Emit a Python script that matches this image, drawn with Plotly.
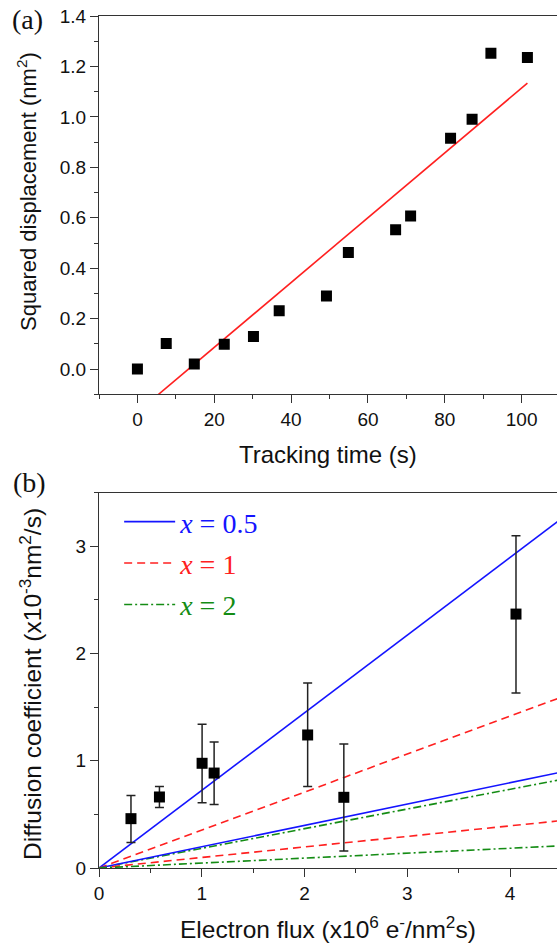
import plotly.graph_objects as go

# ---------------- Panel (a) data ----------------
time_s = [0, 7.5, 14.8, 22.6, 30.2, 36.9, 49.2, 54.9, 67.2, 71.1, 81.5, 87.1, 92.0, 101.5]
sq_disp = [0.0, 0.101, 0.020, 0.098, 0.129, 0.231, 0.290, 0.462, 0.553, 0.607, 0.916, 0.991, 1.253, 1.236]
fit_time = [0, 101.5]
fit_disp = [-0.171, 1.134]

# ---------------- Panel (b) data ----------------
flux = [0.311, 0.588, 1.003, 1.120, 2.030, 2.382, 4.057]
diff_coef = [0.460, 0.662, 0.976, 0.885, 1.240, 0.659, 2.367]
err_up = [0.215, 0.097, 0.363, 0.289, 0.484, 0.497, 0.731]
err_down = [0.223, 0.099, 0.367, 0.294, 0.481, 0.501, 0.736]

model_flux = [0, 4.5]
blue_hi = [0, 3.257]
blue_lo = [0, 0.894]
red_hi = [0, 1.593]
red_lo = [0, 0.442]
green_hi = [0, 0.825]
green_lo = [0, 0.207]

BLUE = "#1414ff"
RED = "#ff2020"
GREEN = "#148c14"
AX = "#333333"
SANS = "Liberation Sans, Arial, sans-serif"
SERIF = "Liberation Serif, Times New Roman, serif"

fig = go.Figure()

# Panel (a)
fig.add_trace(go.Scatter(x=fit_time, y=fit_disp, mode="lines", line=dict(color=RED, width=1.6),
                         xaxis="x", yaxis="y", showlegend=False))
fig.add_trace(go.Scatter(x=time_s, y=sq_disp, mode="markers",
                         marker=dict(symbol="square", size=11, color="black"),
                         xaxis="x", yaxis="y", showlegend=False))

# Panel (b) model lines
lw = 1.6
fig.add_trace(go.Scatter(x=model_flux, y=blue_hi, mode="lines", line=dict(color=BLUE, width=lw),
                         xaxis="x2", yaxis="y2", legendgroup="g1",
                         name='<span style="color:%s"><i>x</i> = 0.5</span>' % BLUE))
fig.add_trace(go.Scatter(x=model_flux, y=red_hi, mode="lines",
                         line=dict(color=RED, width=lw, dash="8px,5px"),
                         xaxis="x2", yaxis="y2", legendgroup="g2",
                         name='<span style="color:%s"><i>x</i> = 1</span>' % RED))
fig.add_trace(go.Scatter(x=model_flux, y=green_hi, mode="lines",
                         line=dict(color=GREEN, width=lw, dash="8px,3px,2px,3px"),
                         xaxis="x2", yaxis="y2", legendgroup="g3",
                         name='<span style="color:%s"><i>x</i> = 2</span>' % GREEN))
fig.add_trace(go.Scatter(x=model_flux, y=blue_lo, mode="lines", line=dict(color=BLUE, width=lw),
                         xaxis="x2", yaxis="y2", showlegend=False))
fig.add_trace(go.Scatter(x=model_flux, y=red_lo, mode="lines",
                         line=dict(color=RED, width=lw, dash="8px,5px"),
                         xaxis="x2", yaxis="y2", showlegend=False))
fig.add_trace(go.Scatter(x=model_flux, y=green_lo, mode="lines",
                         line=dict(color=GREEN, width=lw, dash="8px,3px,2px,3px"),
                         xaxis="x2", yaxis="y2", showlegend=False))
fig.add_trace(go.Scatter(x=flux, y=diff_coef, mode="markers",
                         marker=dict(symbol="square", size=11, color="black"),
                         error_y=dict(type="data", symmetric=False, array=err_up, arrayminus=err_down,
                                      color="#222222", thickness=1.5, width=4.5),
                         xaxis="x2", yaxis="y2", showlegend=False))


def axis(**kw):
    base = dict(showline=True, linecolor=AX, linewidth=1.3, ticks="outside", ticklen=8,
                tickwidth=1.3, tickcolor=AX, showgrid=False, zeroline=False, automargin=False,
                tickfont=dict(family=SANS, size=19, color="#111111"))
    base.update(kw)
    return base


minor_style = dict(ticks="outside", ticklen=4, tickwidth=1.3, tickcolor=AX, showgrid=False)

fig.update_layout(
    width=557, height=949,
    margin=dict(l=99, r=0, t=16, b=81),
    paper_bgcolor="white", plot_bgcolor="white",
    xaxis=axis(domain=[0, 1], range=[-10, 109.2], tick0=0, dtick=20, mirror=True, anchor="y",
               minor=dict(dtick=10, tick0=0, **minor_style)),
    yaxis=axis(domain=[0.556, 1], range=[-0.1, 1.4005], tick0=0, dtick=0.2, tickformat=".1f",
               anchor="x", minor=dict(dtick=0.1, tick0=0, **minor_style)),
    xaxis2=axis(domain=[0, 1], range=[0, 4.456], tick0=0, dtick=1, mirror=True, anchor="y2",
                minor=dict(dtick=0.5, tick0=0, **minor_style)),
    yaxis2=axis(domain=[0, 0.4407], range=[0, 3.5], tick0=0, dtick=1, anchor="x2",
                minor=dict(dtick=0.5, tick0=0, **minor_style)),
    legend=dict(x=0.044, y=0.4355, xanchor="left", yanchor="top", bgcolor="rgba(0,0,0,0)",
                font=dict(family=SERIF, size=28), itemwidth=51, tracegroupgap=2,
                traceorder="grouped"),
    showlegend=True,
)

annotations = [
    dict(text="Tracking time (s)", x=0.5, y=(868 - 455) / 852, xref="paper", yref="paper",
         showarrow=False, xanchor="center", yanchor="middle", font=dict(family=SANS, size=24, color="#111")),
    dict(text="Squared displacement (nm<sup>2</sup>)", x=(27 - 99) / 458, y=(868 - 192) / 852,
         xref="paper", yref="paper", textangle=-90, showarrow=False, xanchor="center", yanchor="middle",
         font=dict(family=SANS, size=22, color="#111")),
    dict(text="Electron flux (x10<sup>6</sup> e<sup>-</sup>/nm<sup>2</sup>s)", x=0.5, y=(868 - 928) / 852,
         xref="paper", yref="paper", showarrow=False, xanchor="center", yanchor="middle",
         font=dict(family=SANS, size=24.5, color="#111")),
    dict(text="Diffusion coefficient (x10<sup>-3</sup>nm<sup>2</sup>/s)", x=(30 - 99) / 458,
         y=(868 - 684) / 852, xref="paper", yref="paper", textangle=-90, showarrow=False,
         xanchor="center", yanchor="middle", font=dict(family=SANS, size=24.5, color="#111")),
    dict(text="(a)", x=(27.5 - 99) / 458, y=(868 - 20) / 852, xref="paper", yref="paper",
         showarrow=False, xanchor="center", yanchor="middle", font=dict(family=SERIF, size=28, color="#111")),
    dict(text="(b)", x=(29 - 99) / 458, y=(868 - 482) / 852, xref="paper", yref="paper",
         showarrow=False, xanchor="center", yanchor="middle", font=dict(family=SERIF, size=28, color="#111")),
]
fig.update_layout(annotations=annotations)

fig.write_html("out.html", config={"displayModeBar": False})

# remove the default page margin so the figure sits at the window's top-left corner
with open("out.html", "r", encoding="utf-8") as f:
    html = f.read()
html = html.replace("<head>", "<head><style>html,body{margin:0;padding:0;overflow:hidden;}</style>", 1)
with open("out.html", "w", encoding="utf-8") as f:
    f.write(html)
